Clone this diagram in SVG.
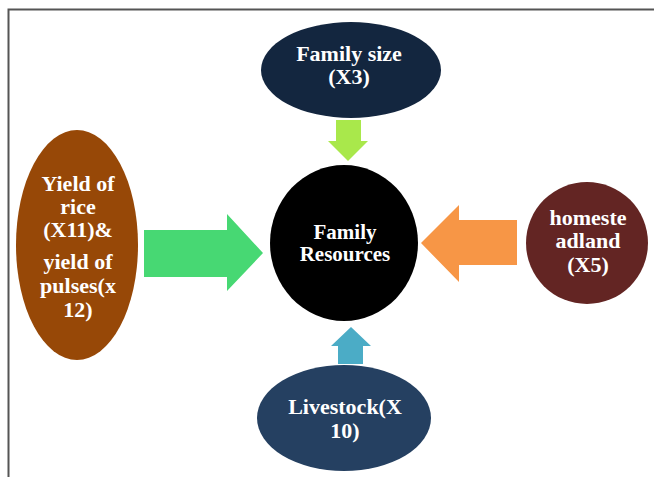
<svg xmlns="http://www.w3.org/2000/svg" width="654" height="477" viewBox="0 0 654 477">
  <style>
    .lbl { font-family: "Liberation Serif", "Times New Roman", serif; font-weight: bold; font-size: 22px; fill: #ffffff; text-anchor: middle; }
    .frame { stroke: #555555; stroke-width: 2; fill: none; }
  </style>
  <rect width="654" height="477" fill="#ffffff"/>
  <!-- page frame -->
  <path class="frame" d="M8.5 477 V9.5 H654"/>

  <!-- connectors: block arrows pointing at the centre -->
  <g id="connectors">
    <polygon id="arrow-top" fill="#a9e84b" points="336,120 361,120 361,141 368,141 348,161 328,141 336,141"/>
    <polygon id="arrow-left" fill="#47d873" points="144,230 227,230 227,214 263,253 227,291 227,277 144,277"/>
    <polygon id="arrow-right" fill="#f79646" points="517,220 459,220 459,205 421,243 459,282 459,265 517,265"/>
    <polygon id="arrow-bottom" fill="#4bacc6" points="338,364 363,364 363,346 371,346 351,327 331,346 338,346"/>
  </g>

  <g id="family-resources">
    <ellipse cx="344" cy="243" rx="74" ry="78" fill="#000000"/>
    <text class="lbl" x="345" y="239" style="font-size:21px">Family</text>
    <text class="lbl" x="345" y="261" style="font-size:21px">Resources</text>
  </g>

  <g id="family-size">
    <ellipse cx="351" cy="70" rx="90" ry="48" fill="#13263f"/>
    <text class="lbl" x="349" y="61">Family size</text>
    <text class="lbl" x="349" y="84">(X3)</text>
  </g>

  <g id="yield">
    <ellipse cx="77" cy="245" rx="61" ry="115" fill="#974807"/>
    <text class="lbl" x="78" y="191">Yield of</text>
    <text class="lbl" x="78" y="214">rice</text>
    <text class="lbl" x="78" y="237">(X11)&amp;</text>
    <text class="lbl" x="78" y="269">yield of</text>
    <text class="lbl" x="78" y="293">pulses(x</text>
    <text class="lbl" x="78" y="317">12)</text>
  </g>

  <g id="homestead-land">
    <ellipse cx="587" cy="243" rx="61" ry="61" fill="#632523"/>
    <text class="lbl" x="588" y="225">homeste</text>
    <text class="lbl" x="588" y="248">adland</text>
    <text class="lbl" x="588" y="272">(X5)</text>
  </g>

  <g id="livestock">
    <ellipse cx="344" cy="418" rx="87" ry="53" fill="#254061"/>
    <text class="lbl" x="345" y="414">Livestock(X</text>
    <text class="lbl" x="345" y="438">10)</text>
  </g>
</svg>
